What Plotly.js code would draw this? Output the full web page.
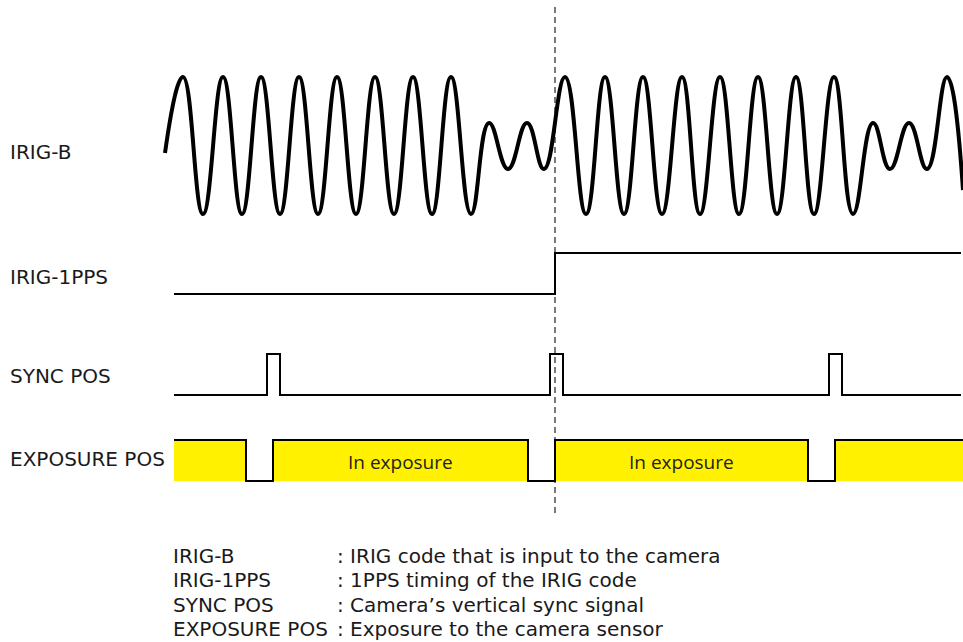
<!DOCTYPE html>
<html>
<head>
<meta charset="utf-8">
<script src="https://cdn.plot.ly/plotly-3.0.1.min.js"></script>
<style>
  html, body { margin: 0; padding: 0; background: #ffffff; }
  #chart { width: 963px; height: 642px; }
</style>
</head>
<body>
<div id="chart"></div>
<script>
// ---- Data (horizontal = time axis, vertical = level, both in drawing units) ----
// IRIG-B waveform: extrema of the carrier (big = marker/1 bits, small = 0 bits)
const irigBX = [165, 183, 203, 223, 242, 261, 280, 299, 318, 337, 356, 375, 394, 413, 432, 451, 471,
                489, 508, 527, 544, 565, 586, 605, 624, 643, 662, 682, 700, 720, 739, 758, 777,
                796, 814, 834, 853, 873, 890, 909, 927, 947, 963];
const irigBY = [153, 77, 214, 77, 214, 77, 214, 77, 214, 77, 214, 77, 214, 77, 214, 77, 214,
                123, 169, 123, 169, 77, 214, 77, 214, 77, 214, 77, 214, 77, 214, 77, 214,
                77, 214, 77, 214, 123, 169, 123, 169, 77, 190];

// IRIG-1PPS step signal
const ppsX = [174, 555, 961];
const ppsY = [294, 253, 253];

// SYNC POS pulse train
const syncX = [174, 267, 280, 550, 563, 829, 842, 961];
const syncY = [395, 354, 395, 354, 395, 354, 395, 395];

// EXPOSURE POS (high = exposing)
const expoX = [174, 246, 273, 528, 555, 808, 835, 963];
const expoY = [440, 481, 440, 481, 440, 481, 440, 440];
const expoLow = 481;
const expoHigh = 440;

// 1PPS timing marker (dashed)
const markerX = [555, 555];
const markerY = [7, 514];

// Signal row labels
const rowLabels = ["IRIG-B", "IRIG-1PPS", "SYNC POS", "EXPOSURE POS"];
const rowLabelY = [152, 277, 376, 459];

// Legend / description text
const legendTerms = ["IRIG-B", "IRIG-1PPS", "SYNC POS", "EXPOSURE POS"];
const legendDescs = ["IRIG code that is input to the camera",
                     "1PPS timing of the IRIG code",
                     "Camera\u2019s vertical sync signal",
                     "Exposure to the camera sensor"];
const legendY = [556, 580, 605, 629];

const exposureText = "In exposure";

// ---- Traces ----
const traces = [
  { // dashed 1PPS marker
    x: markerX, y: markerY, mode: 'lines', hoverinfo: 'skip',
    line: { color: '#7a7a7a', width: 2, dash: '6px,4px' }
  },
  { // IRIG-B
    x: irigBX, y: irigBY, mode: 'lines', hoverinfo: 'skip',
    line: { color: '#000000', width: 4, shape: 'spline', smoothing: 1.3 }
  },
  { // IRIG-1PPS
    x: ppsX, y: ppsY, mode: 'lines', hoverinfo: 'skip',
    line: { color: '#000000', width: 2, shape: 'hv' }
  },
  { // SYNC POS
    x: syncX, y: syncY, mode: 'lines', hoverinfo: 'skip',
    line: { color: '#000000', width: 2, shape: 'hv' }
  },
  { // exposure baseline (for fill)
    x: [expoX[0], expoX[expoX.length - 1]], y: [expoLow, expoLow], mode: 'lines',
    hoverinfo: 'skip', line: { width: 0, color: 'rgba(0,0,0,0)' }
  },
  { // EXPOSURE POS
    x: expoX, y: expoY, mode: 'lines', hoverinfo: 'skip',
    line: { color: '#000000', width: 2, shape: 'hv' },
    fill: 'tonexty', fillcolor: '#FFF100'
  }
];

// ---- Annotations ----
const labelFont = { family: 'DejaVu Sans, Verdana, sans-serif', size: 20, color: '#1a1a1a' };
const annotations = [];
rowLabels.forEach((t, i) => annotations.push({
  x: 8, y: rowLabelY[i], xref: 'x', yref: 'y', text: t, showarrow: false,
  xanchor: 'left', yanchor: 'middle', font: labelFont
}));
legendTerms.forEach((t, i) => {
  annotations.push({
    x: 171, y: legendY[i], xref: 'x', yref: 'y', text: t, showarrow: false,
    xanchor: 'left', yanchor: 'middle', font: labelFont
  });
  annotations.push({
    x: 335, y: legendY[i], xref: 'x', yref: 'y', text: ': ' + legendDescs[i], showarrow: false,
    xanchor: 'left', yanchor: 'middle', font: labelFont
  });
});
// "In exposure" centred on the full exposure periods (between low pulses)
for (let i = 1; i < expoX.length - 1; i++) {
  if (expoY[i] === expoHigh && expoY[i + 1] === expoLow) {
    annotations.push({
      x: (expoX[i] + expoX[i + 1]) / 2, y: (expoHigh + expoLow) / 2 + 1, xref: 'x', yref: 'y',
      text: exposureText, showarrow: false, xanchor: 'center', yanchor: 'middle',
      font: { family: 'Open Sans, Noto Sans, sans-serif', size: 19, color: '#231f20' }
    });
  }
}

const layout = {
  width: 963, height: 642,
  margin: { l: 0, r: 0, t: 0, b: 0, pad: 0 },
  paper_bgcolor: '#ffffff', plot_bgcolor: '#ffffff',
  showlegend: false,
  xaxis: { range: [0, 963], visible: false, fixedrange: true },
  yaxis: { range: [642, 0], visible: false, fixedrange: true },
  annotations: annotations
};

Plotly.newPlot('chart', traces, layout, { staticPlot: true, displayModeBar: false });
</script>
</body>
</html>
